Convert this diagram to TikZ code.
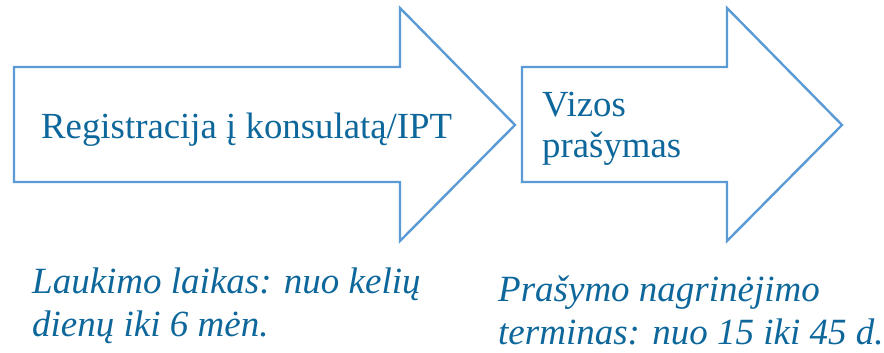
\documentclass[tikz,border=0pt]{standalone}
\usepackage{fontspec}
\setmainfont{Liberation Serif}
\usetikzlibrary{positioning}
\definecolor{outline}{RGB}{91,155,213}
\definecolor{txt}{RGB}{14,103,155}
\begin{document}
\begin{tikzpicture}[x=1pt, y=-1pt,
   arrowbox/.style = {draw=outline, line width=2.4pt, line join=miter},
      label/.style = {text=txt, inner sep=0pt, anchor=base west, align=left,
                     font=\fontsize{36.8}{40}\selectfont},
       note/.style = {text=txt, inner sep=0pt, anchor=base west, align=left,
                     font=\fontsize{37}{43}\selectfont\itshape}
                        ]
\useasboundingbox (0,0) rectangle (884,353);
% first arrow
\draw[arrowbox] (14,67) -- (400,67) -- (400,8) -- (515,125) -- (400,241)
      -- (400,182) -- (14,182) -- cycle;
% second arrow
\draw[arrowbox] (522,67) -- (727,67) -- (727,8) -- (842,125) -- (727,241)
      -- (727,182) -- (522,182) -- cycle;
\node (reg) [label] at (41,138) {Registracija į konsulatą/IPT};
\node (viz) [label] at (542,157) {Vizos\\prašymas};
\node (wait) [note] at (32,336) {Laukimo laikas: nuo kelių\\dienų iki 6 mėn.};
\node (term) [note] at (498,344) {Prašymo nagrinėjimo\\terminas: nuo 15 iki 45 d.};
\end{tikzpicture}
\end{document}
